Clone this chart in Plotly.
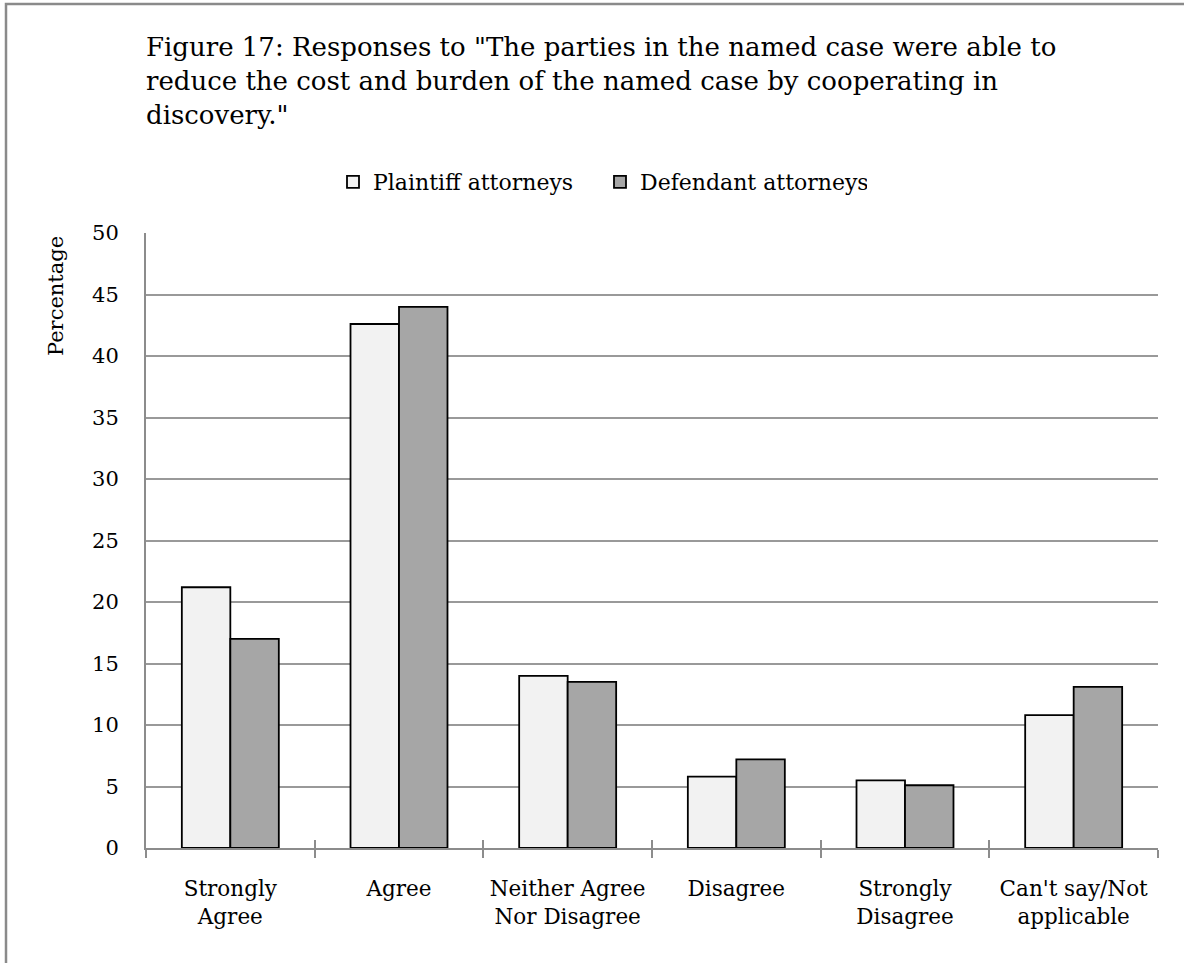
import plotly.graph_objects as go

# Survey responses (percent of respondents)
categories = ["Strongly<br>Agree", "Agree", "Neither Agree<br>Nor Disagree",
              "Disagree", "Strongly<br>Disagree", "Can't say/Not<br>applicable"]
plaintiff = [21.2, 42.6, 14.0, 5.8, 5.5, 10.8]
defendant = [17.0, 44.0, 13.5, 7.2, 5.1, 13.1]
y_ticks = [0, 5, 10, 15, 20, 25, 30, 35, 40, 45, 50]
title_lines = ['Figure 17: Responses to "The parties in the named case were able to',
               'reduce the cost and burden of the named case by cooperating in',
               'discovery."']

SERIF = "DejaVu Serif"
W, H = 1184, 963
L, R, T, B = 146, 26, 233, 115
PW, PH = W - L - R, H - T - B


def px_x(px):
    return (px - L) / PW


def px_y(py):
    return (H - B - py) / PH


fig = go.Figure()
fig.add_trace(go.Bar(name="Plaintiff attorneys", x=categories, y=plaintiff,
                     marker=dict(color="#F2F2F2", line=dict(color="#000000", width=1.8))))
fig.add_trace(go.Bar(name="Defendant attorneys", x=categories, y=defendant,
                     marker=dict(color="#A6A6A6", line=dict(color="#000000", width=1.8))))
# helper trace on the overlay axis that draws the inner half of the cross ticks
fig.add_trace(go.Scatter(x=categories, y=[None] * len(categories), xaxis="x2",
                         showlegend=False, hoverinfo="skip", mode="markers"))

fig.update_layout(
    width=W, height=H,
    margin=dict(l=L, r=R, t=T, b=B, autoexpand=False),
    paper_bgcolor="white", plot_bgcolor="white",
    barmode="group", bargap=0.425, bargroupgap=0,
    font=dict(family=SERIF, color="#000000"),
    showlegend=True,
    legend=dict(orientation="h", x=px_x(600), xanchor="center", y=px_y(182), yanchor="middle",
                font=dict(family=SERIF, size=22), itemwidth=30, tracegroupgap=0,
                entrywidth=222, entrywidthmode="pixels",
                bgcolor="rgba(0,0,0,0)"),
    xaxis=dict(type="category", categoryorder="array", categoryarray=categories,
               showline=True, linecolor="#8C8C8C", linewidth=2,
               ticks="outside", ticklen=8, tickwidth=1.5, tickcolor="#8C8C8C",
               tickson="boundaries", showgrid=False,
               tickfont=dict(family=SERIF, size=21.5), ticklabelstandoff=20),
    xaxis2=dict(type="category", overlaying="x", matches="x", side="bottom",
                categoryorder="array", categoryarray=categories,
                ticks="inside", ticklen=8, tickwidth=1.5, tickcolor="#8C8C8C",
                tickson="boundaries", showticklabels=False, showgrid=False, showline=False),
    yaxis=dict(range=[0, 50], tickvals=y_ticks, showline=True, linecolor="#8C8C8C",
               linewidth=2, showgrid=True, gridcolor="#999999", gridwidth=1.8,
               ticks="", tickfont=dict(family=SERIF, size=21), ticklabelstandoff=21,
               zeroline=False),
)

# chart title, one annotation per line for exact line spacing
for i, line in enumerate(title_lines):
    fig.add_annotation(
        text=line, xref="paper", yref="paper", x=px_x(144), y=px_y(47 + 34 * i),
        xanchor="left", yanchor="middle", align="left", showarrow=False,
        font=dict(family=SERIF, size=26, color="#000000"))

# y-axis title
fig.add_annotation(text="Percentage", xref="paper", yref="paper",
                   x=px_x(56), y=px_y(234), xanchor="center", yanchor="top",
                   textangle=-90, showarrow=False,
                   font=dict(family=SERIF, size=21, color="#000000"))

# outer frame
fig.add_shape(type="rect", xref="paper", yref="paper",
              x0=px_x(6), y0=px_y(H + 40), x1=px_x(W + 40), y1=px_y(4),
              line=dict(color="#8A8A8A", width=2.5), fillcolor="rgba(0,0,0,0)", layer="below")

fig.write_html("out.html")
